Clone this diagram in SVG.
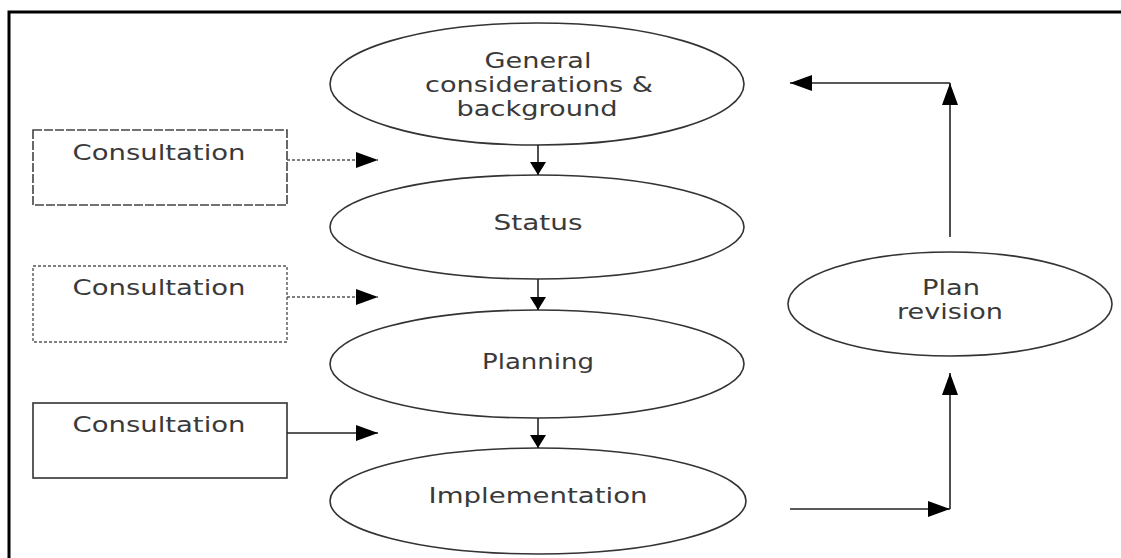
<svg xmlns="http://www.w3.org/2000/svg" width="1121" height="558" viewBox="0 0 1121 558">
<defs>
<style>
.node{fill:#fff;stroke:#333;stroke-width:1.6}
.lbl{font-family:"DejaVu Sans",Verdana,sans-serif;font-size:21px;fill:#3a3a3a;text-anchor:middle}
.con{fill:none;stroke:#222;stroke-width:1.6}
.dot{stroke-dasharray:3 2;stroke:#555}
</style>
<marker id="ah" markerUnits="userSpaceOnUse" markerWidth="24" markerHeight="16" viewBox="0 0 24 16" refX="22" refY="8" orient="auto">
<path d="M0,0 L22,8 L0,16 Z" fill="#000"/>
</marker>
<marker id="av" markerUnits="userSpaceOnUse" markerWidth="14" markerHeight="16" viewBox="0 0 14 16" refX="13" refY="8" orient="auto">
<path d="M0,0 L13,8 L0,16 Z" fill="#000"/>
</marker>
</defs>
<rect x="0" y="0" width="1121" height="558" fill="#fff"/>
<rect x="9" y="12" width="1130" height="560" fill="none" stroke="#000" stroke-width="3"/>

<g id="general">
<ellipse class="node" cx="537" cy="84" rx="207" ry="61"/>
<text class="lbl"><tspan x="538" y="68" textLength="107" lengthAdjust="spacingAndGlyphs">General</tspan><tspan x="539" y="92" textLength="228" lengthAdjust="spacingAndGlyphs">considerations &amp;</tspan><tspan x="537" y="116" textLength="161" lengthAdjust="spacingAndGlyphs">background</tspan></text>
</g>
<g id="status">
<ellipse class="node" cx="537" cy="227" rx="207" ry="52"/>
<text class="lbl" x="538" y="230" textLength="89" lengthAdjust="spacingAndGlyphs">Status</text>
</g>
<g id="planning">
<ellipse class="node" cx="537" cy="364" rx="207" ry="54"/>
<text class="lbl" x="538" y="369" textLength="112" lengthAdjust="spacingAndGlyphs">Planning</text>
</g>
<g id="implementation">
<ellipse class="node" cx="538" cy="501" rx="208" ry="53"/>
<text class="lbl" x="538" y="503" textLength="219" lengthAdjust="spacingAndGlyphs">Implementation</text>
</g>
<g id="planrevision">
<ellipse class="node" cx="950" cy="304" rx="162" ry="52"/>
<text class="lbl"><tspan x="951" y="295" textLength="58" lengthAdjust="spacingAndGlyphs">Plan</tspan><tspan x="950" y="319" textLength="106" lengthAdjust="spacingAndGlyphs">revision</tspan></text>
</g>
<g id="consult1">
<rect x="33" y="130" width="254" height="75" fill="#fff" stroke="#444" stroke-width="1.6" stroke-dasharray="9 2"/>
<text class="lbl" x="159" y="160" textLength="173" lengthAdjust="spacingAndGlyphs">Consultation</text>
</g>
<g id="consult2">
<rect x="33" y="266" width="254" height="76" fill="#fff" stroke="#555" stroke-width="1.4" stroke-dasharray="3 2"/>
<text class="lbl" x="159" y="295" textLength="173" lengthAdjust="spacingAndGlyphs">Consultation</text>
</g>
<g id="consult3">
<rect x="33" y="403" width="254" height="75" fill="#fff" stroke="#333" stroke-width="1.6"/>
<text class="lbl" x="159" y="432" textLength="173" lengthAdjust="spacingAndGlyphs">Consultation</text>
</g>

<g id="connectors">
<line class="con" x1="538" y1="145" x2="538" y2="175" marker-end="url(#av)"/>
<line class="con" x1="538" y1="279" x2="538" y2="310" marker-end="url(#av)"/>
<line class="con" x1="538" y1="418" x2="538" y2="448" marker-end="url(#av)"/>
<line class="con dot" x1="287" y1="160" x2="378" y2="160" marker-end="url(#ah)"/>
<line class="con dot" x1="287" y1="297" x2="378" y2="297" marker-end="url(#ah)"/>
<line class="con" x1="287" y1="433" x2="378" y2="433" marker-end="url(#ah)"/>
<line class="con" x1="790" y1="509" x2="950" y2="509" marker-end="url(#ah)"/>
<line class="con" x1="950" y1="509" x2="950" y2="373" marker-end="url(#ah)"/>
<line class="con" x1="950" y1="237" x2="950" y2="83" marker-end="url(#ah)"/>
<line class="con" x1="950" y1="83" x2="790" y2="83" marker-end="url(#ah)"/>
</g>
</svg>
